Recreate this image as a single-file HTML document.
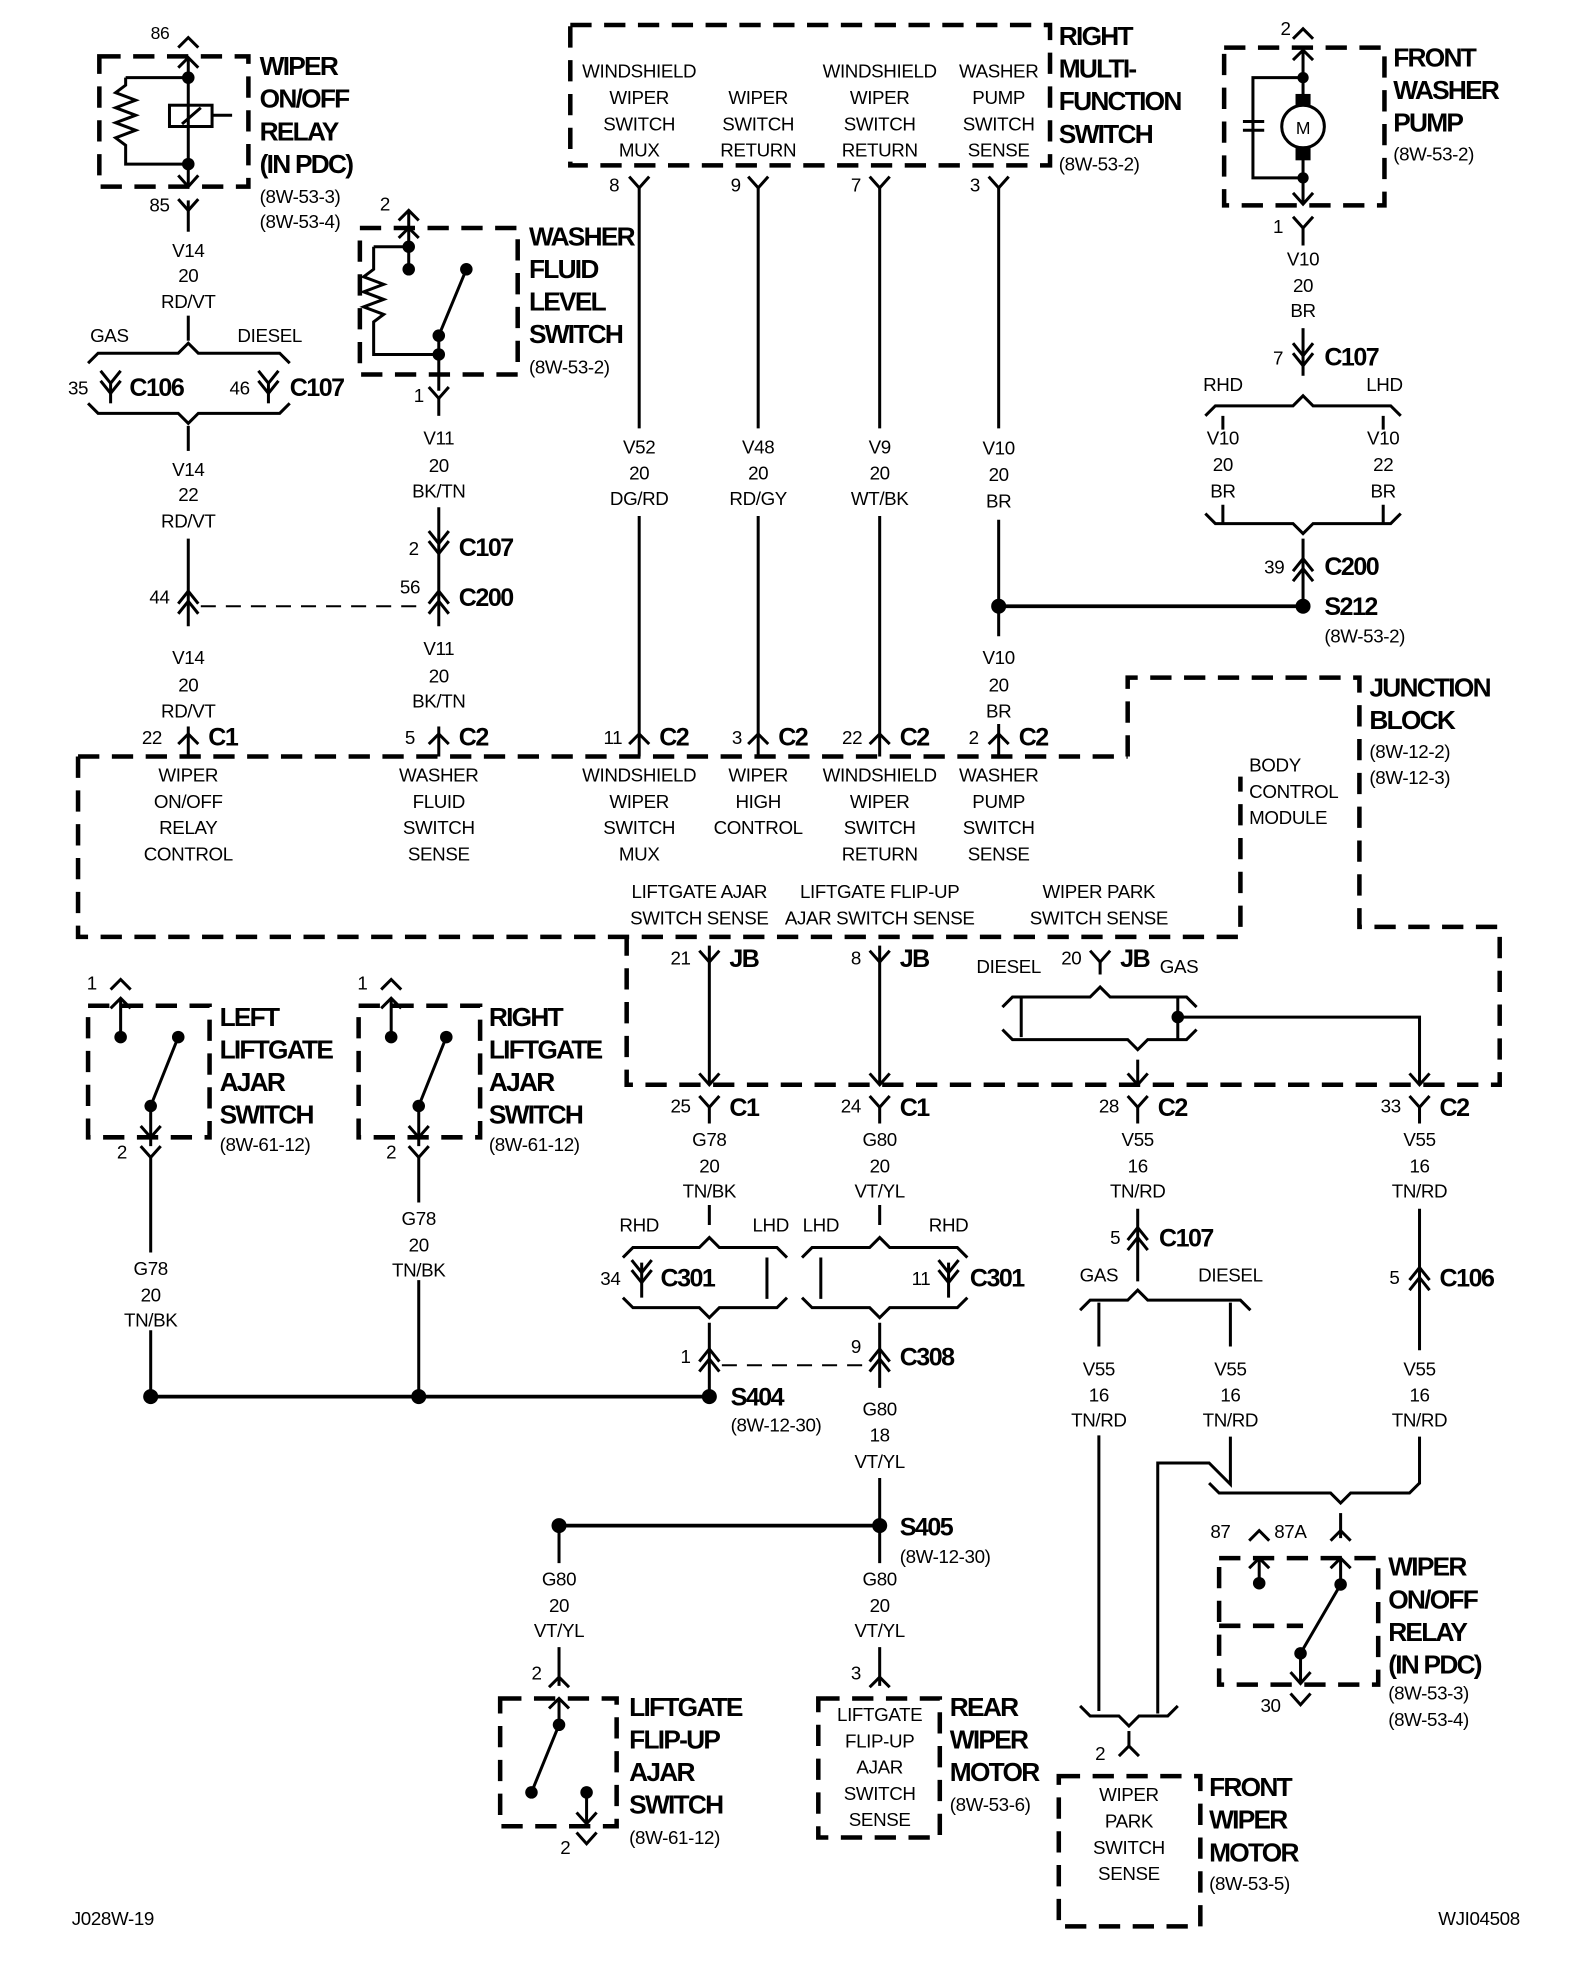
<!DOCTYPE html>
<html><head><meta charset="utf-8"><style>
html,body{margin:0;padding:0;background:#fff;}
svg{display:block;}
text{font-family:"Liberation Sans Narrow","Liberation Sans",sans-serif;fill:#000;}
.s{font-size:15px;text-anchor:middle;letter-spacing:-0.3px;}
.sl{font-size:15px;letter-spacing:-0.3px;}
.b{font-size:21px;font-weight:bold;letter-spacing:-1.4px;}
.bc{font-size:20px;font-weight:bold;letter-spacing:-1.2px;}
.w{stroke:#000;stroke-width:2.4;fill:none;}
.d{stroke:#000;stroke-width:3.6;fill:none;stroke-dasharray:17,10;}
.dl{stroke:#000;stroke-width:1.6;fill:none;stroke-dasharray:12,8;}
</style></head><body>
<svg width="1584" height="1964" viewBox="0 0 1264 1568" xmlns="http://www.w3.org/2000/svg">
<defs>
<path id="y" d="M-8,-9 L0,0 L8,-9" class="w"/>
<path id="up" d="M-8,8 L0,0 L8,8" class="w"/>
<path id="dd" d="M-8,-14 L0,-4 L8,-14 M-8,-6 L0,4 L8,-6" class="w"/>
<path id="uu" d="M-8,4 L0,-6 L8,4 M-8,12 L0,2 L8,12" class="w"/>
</defs>

<!-- ============ TOP LEFT RELAY ============ -->
<rect x="79" y="45" width="119" height="104" class="d"/>
<text x="120" y="31" class="sl" style="font-size:14px">86</text>
<use href="#up" x="150" y="30"/><use href="#up" x="150" y="46"/>
<path class="w" d="M150,46 V148 M100,62 H150 M100,62 V68 l-8,6 l16,6 l-16,6 l16,6 l-16,6 l16,6 l-16,6 l8,6 V131 H150"/>
<circle cx="150" cy="62" r="5"/><circle cx="150" cy="131" r="5"/>
<rect x="135" y="84" width="34" height="17" class="w"/>
<path class="w" d="M145,99 L160,86 M169,92 H185"/>
<path class="w" d="M142,140 L150,149 L158,140"/>
<use href="#y" x="150" y="168"/>
<path class="w" d="M150,160 V185"/>
<text x="119" y="169" class="sl">85</text>
<text x="207" y="60" class="b">WIPER</text>
<text x="207" y="86" class="b">ON/OFF</text>
<text x="207" y="112" class="b">RELAY</text>
<text x="207" y="138" class="b">(IN PDC)</text>
<text x="207" y="162" class="sl">(8W-53-3)</text>
<text x="207" y="182" class="sl">(8W-53-4)</text>
<text x="150" y="205" class="s">V14</text><text x="150" y="225" class="s">20</text><text x="150" y="246" class="s">RD/VT</text>
<path class="w" d="M150,252 V272"/>
<text x="87" y="273" class="s">GAS</text><text x="215" y="273" class="s">DIESEL</text>
<path class="w" d="M70,290 L78,282 H142 L150,274 L158,282 H223 L231,290"/>
<text x="62" y="315" class="s">35</text><use href="#dd" x="88" y="310"/><path class="w" d="M88,306 V322"/>
<text x="103" y="316" class="bc">C106</text>
<text x="191" y="315" class="s">46</text><use href="#dd" x="214" y="310"/><path class="w" d="M214,306 V322"/>
<text x="231" y="316" class="bc">C107</text>
<path class="w" d="M70,322 L78,330 H142 L150,338 L158,330 H223 L231,322"/>
<path class="w" d="M150,340 V360"/>
<text x="150" y="380" class="s">V14</text><text x="150" y="400" class="s">22</text><text x="150" y="421" class="s">RD/VT</text>
<path class="w" d="M150,430 V500"/>
<use href="#uu" x="150" y="478"/>
<text x="127" y="482" class="s">44</text>
<path class="dl" d="M160,484 H340"/>
<text x="150" y="530" class="s">V14</text><text x="150" y="552" class="s">20</text><text x="150" y="573" class="s">RD/VT</text>
<path class="w" d="M150,580 V604"/><use href="#up" x="150" y="586"/>
<text x="121" y="594" class="s">22</text><text x="166" y="595" class="bc">C1</text>

<!-- ============ WASHER FLUID LEVEL SWITCH ============ -->
<rect x="287" y="182" width="126" height="117" class="d"/>
<text x="303" y="168" class="sl">2</text>
<use href="#up" x="326" y="168"/><use href="#up" x="326" y="182"/>
<path class="w" d="M326,168 V215 M298,197 H326 M298,197 V215 l-8,6 l16,6 l-16,6 l16,6 l-16,6 l16,6 l-8,6 V283 H350 M350,268 V312 M350,268 L372,215"/>
<circle cx="326" cy="197" r="5"/><circle cx="326" cy="215" r="5"/><circle cx="350" cy="268" r="5"/><circle cx="350" cy="283" r="5"/><circle cx="372" cy="215" r="5"/>
<use href="#y" x="350" y="318"/><path class="w" d="M350,318 V332"/>
<text x="330" y="321" class="sl">1</text>
<text x="422" y="196" class="b">WASHER</text>
<text x="422" y="222" class="b">FLUID</text>
<text x="422" y="248" class="b">LEVEL</text>
<text x="422" y="274" class="b">SWITCH</text>
<text x="422" y="298" class="sl">(8W-53-2)</text>
<text x="350" y="355" class="s">V11</text><text x="350" y="377" class="s">20</text><text x="350" y="397" class="s">BK/TN</text>
<path class="w" d="M350,405 V500"/>
<use href="#dd" x="350" y="438"/>
<text x="330" y="443" class="s">2</text><text x="366" y="444" class="bc">C107</text>
<use href="#uu" x="350" y="478"/>
<text x="327" y="474" class="s">56</text><text x="366" y="484" class="bc">C200</text>
<text x="350" y="523" class="s">V11</text><text x="350" y="545" class="s">20</text><text x="350" y="565" class="s">BK/TN</text>
<path class="w" d="M350,580 V604"/><use href="#up" x="350" y="586"/>
<text x="327" y="594" class="s">5</text><text x="366" y="595" class="bc">C2</text>

<!-- ============ RIGHT MULTI-FUNCTION SWITCH ============ -->
<rect x="455" y="20" width="383" height="112" class="d"/>
<text x="510" y="62" class="s">WINDSHIELD</text><text x="510" y="83" class="s">WIPER</text><text x="510" y="104" class="s">SWITCH</text><text x="510" y="125" class="s">MUX</text>
<text x="605" y="83" class="s">WIPER</text><text x="605" y="104" class="s">SWITCH</text><text x="605" y="125" class="s">RETURN</text>
<text x="702" y="62" class="s">WINDSHIELD</text><text x="702" y="83" class="s">WIPER</text><text x="702" y="104" class="s">SWITCH</text><text x="702" y="125" class="s">RETURN</text>
<text x="797" y="62" class="s">WASHER</text><text x="797" y="83" class="s">PUMP</text><text x="797" y="104" class="s">SWITCH</text><text x="797" y="125" class="s">SENSE</text>
<text x="845" y="36" class="b">RIGHT</text>
<text x="845" y="62" class="b">MULTI-</text>
<text x="845" y="88" class="b">FUNCTION</text>
<text x="845" y="114" class="b">SWITCH</text>
<text x="845" y="136" class="sl">(8W-53-2)</text>
<use href="#y" x="510" y="150"/><use href="#y" x="605" y="150"/><use href="#y" x="702" y="150"/><use href="#y" x="797" y="150"/>
<text x="490" y="153" class="s">8</text><text x="587" y="153" class="s">9</text><text x="683" y="153" class="s">7</text><text x="778" y="153" class="s">3</text>
<path class="w" d="M510,150 V342 M605,150 V342 M702,150 V342 M797,150 V342"/>
<text x="510" y="362" class="s">V52</text><text x="510" y="383" class="s">20</text><text x="510" y="403" class="s">DG/RD</text>
<text x="605" y="362" class="s">V48</text><text x="605" y="383" class="s">20</text><text x="605" y="403" class="s">RD/GY</text>
<text x="702" y="362" class="s">V9</text><text x="702" y="383" class="s">20</text><text x="702" y="403" class="s">WT/BK</text>
<text x="797" y="363" class="s">V10</text><text x="797" y="384" class="s">20</text><text x="797" y="405" class="s">BR</text>
<path class="w" d="M510,412 V604 M605,412 V604 M702,412 V604 M797,415 V508 M797,578 V604"/>
<circle cx="797" cy="484" r="6"/><circle cx="1040" cy="484" r="6"/>
<path class="w" d="M797,484 H1040" style="stroke-width:3"/>
<text x="1057" y="491" class="bc">S212</text><text x="1057" y="513" class="sl">(8W-53-2)</text>
<text x="797" y="530" class="s">V10</text><text x="797" y="552" class="s">20</text><text x="797" y="573" class="s">BR</text>
<use href="#up" x="510" y="586"/><use href="#up" x="605" y="586"/><use href="#up" x="702" y="586"/><use href="#up" x="797" y="586"/>
<text x="489" y="594" class="s">11</text><text x="526" y="595" class="bc">C2</text>
<text x="588" y="594" class="s">3</text><text x="621" y="595" class="bc">C2</text>
<text x="680" y="594" class="s">22</text><text x="718" y="595" class="bc">C2</text>
<text x="777" y="594" class="s">2</text><text x="813" y="595" class="bc">C2</text>

<!-- ============ FRONT WASHER PUMP ============ -->
<rect x="977" y="38" width="128" height="126" class="d"/>
<text x="1022" y="28" class="sl">2</text>
<use href="#up" x="1040" y="23"/><use href="#up" x="1040" y="40"/>
<path class="w" d="M1040,40 V78 M1040,122 V162 M1040,62 H1000 V142 H1040 M992,97 H1009 M992,104 H1009"/>
<circle cx="1040" cy="62" r="4.5"/><circle cx="1040" cy="142" r="4.5"/>
<rect x="1034" y="75" width="12" height="10"/><rect x="1034" y="118" width="12" height="10"/>
<circle cx="1040" cy="101" r="17" class="w" style="fill:#fff"/>
<text x="1040" y="107" class="s" style="font-size:14px">M</text>
<path class="w" d="M1032,154 L1040,163 L1048,154"/>
<use href="#y" x="1040" y="182"/><path class="w" d="M1040,182 V196"/>
<text x="1020" y="186" class="s">1</text>
<text x="1112" y="53" class="b">FRONT</text><text x="1112" y="79" class="b">WASHER</text><text x="1112" y="105" class="b">PUMP</text>
<text x="1112" y="128" class="sl">(8W-53-2)</text>
<text x="1040" y="212" class="s">V10</text><text x="1040" y="233" class="s">20</text><text x="1040" y="253" class="s">BR</text>
<path class="w" d="M1040,262 V300"/><use href="#dd" x="1040" y="288"/>
<text x="1020" y="291" class="s">7</text><text x="1057" y="292" class="bc">C107</text>
<text x="976" y="312" class="s">RHD</text><text x="1105" y="312" class="s">LHD</text>
<path class="w" d="M962,332 L970,324 H1032 L1040,316 L1048,324 H1110 L1118,332"/>
<path class="w" d="M976,332 V343 M1104,332 V343"/>
<text x="976" y="355" class="s">V10</text><text x="976" y="376" class="s">20</text><text x="976" y="397" class="s">BR</text>
<text x="1104" y="355" class="s">V10</text><text x="1104" y="376" class="s">22</text><text x="1104" y="397" class="s">BR</text>
<path class="w" d="M976,403 V418 M1104,403 V418"/>
<path class="w" d="M962,410 L970,418 H1032 L1040,426 L1048,418 H1110 L1118,410"/>
<path class="w" d="M1040,430 V484"/><use href="#uu" x="1040" y="452"/>
<text x="1017" y="458" class="s">39</text><text x="1057" y="459" class="bc">C200</text>

<!-- ============ BCM & JUNCTION BLOCK ============ -->
<path class="d" d="M62,604 H900 M62,604 V748 H990 V620 M900,604 V541 H1085 V740 H1197 V866 H500 V748"/>
<text x="150" y="624" class="s">WIPER</text><text x="150" y="645" class="s">ON/OFF</text><text x="150" y="666" class="s">RELAY</text><text x="150" y="687" class="s">CONTROL</text>
<text x="350" y="624" class="s">WASHER</text><text x="350" y="645" class="s">FLUID</text><text x="350" y="666" class="s">SWITCH</text><text x="350" y="687" class="s">SENSE</text>
<text x="510" y="624" class="s">WINDSHIELD</text><text x="510" y="645" class="s">WIPER</text><text x="510" y="666" class="s">SWITCH</text><text x="510" y="687" class="s">MUX</text>
<text x="605" y="624" class="s">WIPER</text><text x="605" y="645" class="s">HIGH</text><text x="605" y="666" class="s">CONTROL</text>
<text x="702" y="624" class="s">WINDSHIELD</text><text x="702" y="645" class="s">WIPER</text><text x="702" y="666" class="s">SWITCH</text><text x="702" y="687" class="s">RETURN</text>
<text x="797" y="624" class="s">WASHER</text><text x="797" y="645" class="s">PUMP</text><text x="797" y="666" class="s">SWITCH</text><text x="797" y="687" class="s">SENSE</text>
<text x="997" y="616" class="sl">BODY</text><text x="997" y="637" class="sl">CONTROL</text><text x="997" y="658" class="sl">MODULE</text>
<text x="558" y="717" class="s">LIFTGATE AJAR</text><text x="558" y="738" class="s">SWITCH SENSE</text>
<text x="702" y="717" class="s">LIFTGATE FLIP-UP</text><text x="702" y="738" class="s">AJAR SWITCH SENSE</text>
<text x="877" y="717" class="s">WIPER PARK</text><text x="877" y="738" class="s">SWITCH SENSE</text>
<text x="1093" y="556" class="b">JUNCTION</text><text x="1093" y="582" class="b">BLOCK</text>
<text x="1093" y="605" class="sl">(8W-12-2)</text><text x="1093" y="626" class="sl">(8W-12-3)</text>

<!-- JB outputs -->
<use href="#y" x="566" y="768"/><use href="#y" x="702" y="768"/><use href="#y" x="878" y="768"/>
<text x="543" y="770" class="s">21</text><text x="582" y="772" class="bc">JB</text>
<text x="683" y="770" class="s">8</text><text x="718" y="772" class="bc">JB</text>
<text x="855" y="770" class="s">20</text><text x="894" y="772" class="bc">JB</text>
<text x="805" y="777" class="s">DIESEL</text><text x="941" y="777" class="s">GAS</text>
<path class="w" d="M566,755 V866 M702,755 V866 M878,768 V778"/>
<path class="w" d="M558,857 L566,866 L574,857 M694,857 L702,866 L710,857 M900,857 L908,866 L916,857 M1125,857 L1133,866 L1141,857"/>
<path class="w" d="M800,804 L808,796 H870 L878,788 L886,796 H947 L955,804"/>
<path class="w" d="M815,796 V828 M940,796 V830 M940,812 H1133 V866"/>
<circle cx="940" cy="812" r="5"/>
<path class="w" d="M800,822 L808,830 H900 L908,838 L916,830 H947 L955,822"/>
<path class="w" d="M908,846 V866"/>
<use href="#y" x="566" y="884"/><use href="#y" x="702" y="884"/><use href="#y" x="908" y="884"/><use href="#y" x="1133" y="884"/>
<text x="543" y="888" class="s">25</text><text x="582" y="891" class="bc">C1</text>
<text x="679" y="888" class="s">24</text><text x="718" y="891" class="bc">C1</text>
<text x="885" y="888" class="s">28</text><text x="924" y="891" class="bc">C2</text>
<text x="1110" y="888" class="s">33</text><text x="1149" y="891" class="bc">C2</text>
<path class="w" d="M566,884 V897 M702,884 V897 M908,884 V897 M1133,884 V897"/>

<!-- G78 / G80 middle -->
<text x="566" y="915" class="s">G78</text><text x="566" y="936" class="s">20</text><text x="566" y="956" class="s">TN/BK</text>
<text x="702" y="915" class="s">G80</text><text x="702" y="936" class="s">20</text><text x="702" y="956" class="s">VT/YL</text>
<path class="w" d="M566,962 V978 M702,962 V978"/>
<text x="510" y="983" class="s">RHD</text><text x="615" y="983" class="s">LHD</text>
<path class="w" d="M497,1004 L505,996 H558 L566,988 L574,996 H620 L628,1004"/>
<text x="655" y="983" class="s">LHD</text><text x="757" y="983" class="s">RHD</text>
<path class="w" d="M640,1004 L648,996 H694 L702,988 L710,996 H764 L772,1004"/>
<path class="w" d="M512,1008 V1036 M612,1004 V1037 M655,1004 V1037 M757,1008 V1036"/>
<use href="#dd" x="512" y="1020"/><use href="#dd" x="757" y="1020"/>
<text x="487" y="1026" class="s">34</text><text x="527" y="1027" class="bc">C301</text>
<text x="735" y="1026" class="s">11</text><text x="774" y="1027" class="bc">C301</text>
<path class="w" d="M497,1036 L505,1044 H558 L566,1052 L574,1044 H620 L628,1036"/>
<path class="w" d="M640,1036 L648,1044 H694 L702,1052 L710,1044 H764 L772,1036"/>
<path class="w" d="M566,1056 V1115 M702,1056 V1108"/>
<use href="#uu" x="566" y="1083"/><use href="#uu" x="702" y="1083"/>
<text x="547" y="1088" class="s">1</text>
<text x="683" y="1080" class="s">9</text><text x="718" y="1090" class="bc">C308</text>
<path class="dl" d="M576,1090 H694"/>
<circle cx="120" cy="1115" r="6"/><circle cx="334" cy="1115" r="6"/><circle cx="566" cy="1115" r="6"/>
<path class="w" d="M120,1115 H566" style="stroke-width:3"/>
<text x="583" y="1122" class="bc">S404</text><text x="583" y="1143" class="sl">(8W-12-30)</text>
<text x="702" y="1130" class="s">G80</text><text x="702" y="1151" class="s">18</text><text x="702" y="1172" class="s">VT/YL</text>
<path class="w" d="M702,1180 V1218"/>
<circle cx="446" cy="1218" r="6"/><circle cx="702" cy="1218" r="6"/>
<path class="w" d="M446,1218 H702" style="stroke-width:3"/>
<text x="718" y="1226" class="bc">S405</text><text x="718" y="1248" class="sl">(8W-12-30)</text>
<path class="w" d="M446,1218 V1248 M702,1218 V1248"/>
<text x="446" y="1266" class="s">G80</text><text x="446" y="1287" class="s">20</text><text x="446" y="1307" class="s">VT/YL</text>
<text x="702" y="1266" class="s">G80</text><text x="702" y="1287" class="s">20</text><text x="702" y="1307" class="s">VT/YL</text>
<path class="w" d="M446,1315 V1346 M702,1315 V1346"/>
<use href="#up" x="446" y="1339"/><use href="#up" x="702" y="1339"/>
<text x="424" y="1341" class="sl">2</text><text x="679" y="1341" class="sl">3</text>

<!-- Liftgate flip-up switch -->
<rect x="399" y="1356" width="93" height="102" class="d"/>
<use href="#up" x="446" y="1356"/>
<path class="w" d="M446,1356 V1377 M446,1377 L424,1431 M468,1431 V1456"/>
<circle cx="446" cy="1377" r="5"/><circle cx="424" cy="1431" r="5"/><circle cx="468" cy="1431" r="5"/>
<path class="w" d="M460,1447 L468,1456 L476,1447 M460,1463 L468,1472 L476,1463"/>
<text x="447" y="1480" class="sl">2</text>
<text x="502" y="1370" class="b">LIFTGATE</text><text x="502" y="1396" class="b">FLIP-UP</text><text x="502" y="1422" class="b">AJAR</text><text x="502" y="1448" class="b">SWITCH</text>
<text x="502" y="1472" class="sl">(8W-61-12)</text>

<!-- Rear wiper motor -->
<rect x="653" y="1356" width="97" height="111" class="d"/>
<text x="702" y="1374" class="s">LIFTGATE</text><text x="702" y="1395" class="s">FLIP-UP</text><text x="702" y="1416" class="s">AJAR</text><text x="702" y="1437" class="s">SWITCH</text><text x="702" y="1458" class="s">SENSE</text>
<text x="758" y="1370" class="b">REAR</text><text x="758" y="1396" class="b">WIPER</text><text x="758" y="1422" class="b">MOTOR</text>
<text x="758" y="1446" class="sl">(8W-53-6)</text>

<!-- Left & right liftgate ajar switches -->
<rect x="70" y="803" width="97" height="105" class="d"/>
<text x="69" y="790" class="sl">1</text>
<use href="#up" x="96" y="782"/><use href="#up" x="96" y="797"/>
<path class="w" d="M96,797 V828 M120,883 L142,828 M120,883 V915"/>
<circle cx="96" cy="828" r="5"/><circle cx="120" cy="883" r="5"/><circle cx="142" cy="828" r="5"/>
<path class="w" d="M112,899 L120,908 L128,899"/>
<use href="#y" x="120" y="924"/>
<text x="93" y="925" class="sl">2</text>
<path class="w" d="M120,924 V1000 M120,1062 V1115"/>
<text x="175" y="819" class="b">LEFT</text><text x="175" y="845" class="b">LIFTGATE</text><text x="175" y="871" class="b">AJAR</text><text x="175" y="897" class="b">SWITCH</text>
<text x="175" y="919" class="sl">(8W-61-12)</text>
<text x="120" y="1018" class="s">G78</text><text x="120" y="1039" class="s">20</text><text x="120" y="1059" class="s">TN/BK</text>

<rect x="286" y="803" width="97" height="105" class="d"/>
<text x="285" y="790" class="sl">1</text>
<use href="#up" x="312" y="782"/><use href="#up" x="312" y="797"/>
<path class="w" d="M312,797 V828 M334,883 L356,828 M334,883 V915"/>
<circle cx="312" cy="828" r="5"/><circle cx="334" cy="883" r="5"/><circle cx="356" cy="828" r="5"/>
<path class="w" d="M326,899 L334,908 L342,899"/>
<use href="#y" x="334" y="924"/>
<text x="308" y="925" class="sl">2</text>
<path class="w" d="M334,924 V960 M334,1022 V1115"/>
<text x="390" y="819" class="b">RIGHT</text><text x="390" y="845" class="b">LIFTGATE</text><text x="390" y="871" class="b">AJAR</text><text x="390" y="897" class="b">SWITCH</text>
<text x="390" y="919" class="sl">(8W-61-12)</text>
<text x="334" y="978" class="s">G78</text><text x="334" y="999" class="s">20</text><text x="334" y="1019" class="s">TN/BK</text>

<!-- V55 right side -->
<text x="908" y="915" class="s">V55</text><text x="908" y="936" class="s">16</text><text x="908" y="956" class="s">TN/RD</text>
<text x="1133" y="915" class="s">V55</text><text x="1133" y="936" class="s">16</text><text x="1133" y="956" class="s">TN/RD</text>
<path class="w" d="M908,965 V1023 M1133,965 V1078"/>
<use href="#uu" x="908" y="986"/>
<text x="890" y="993" class="s">5</text><text x="925" y="995" class="bc">C107</text>
<use href="#uu" x="1133" y="1018"/>
<text x="1113" y="1025" class="s">5</text><text x="1149" y="1027" class="bc">C106</text>
<text x="877" y="1023" class="s">GAS</text><text x="982" y="1023" class="s">DIESEL</text>
<path class="w" d="M862,1046 L870,1038 H900 L908,1030 L916,1038 H990 L998,1046"/>
<path class="w" d="M877,1040 V1075 M982,1040 V1075"/>
<text x="877" y="1098" class="s">V55</text><text x="877" y="1119" class="s">16</text><text x="877" y="1139" class="s">TN/RD</text>
<text x="982" y="1098" class="s">V55</text><text x="982" y="1119" class="s">16</text><text x="982" y="1139" class="s">TN/RD</text>
<text x="1133" y="1098" class="s">V55</text><text x="1133" y="1119" class="s">16</text><text x="1133" y="1139" class="s">TN/RD</text>
<path class="w" d="M877,1146 V1366 M924,1368 V1168 H965 L982,1185 V1147 M1133,1147 V1185"/>
<path class="w" d="M965,1184 L973,1192 H1062 L1070,1200 L1078,1192 H1125 L1133,1184"/>
<path class="w" d="M1070,1208 V1228"/>
<use href="#up" x="1005" y="1222"/><use href="#up" x="1070" y="1222"/>
<text x="966" y="1228" class="sl">87</text><text x="1017" y="1228" class="sl">87A</text>

<!-- Wiper relay bottom -->
<rect x="973" y="1244" width="127" height="101" class="d"/>
<use href="#up" x="1005" y="1244"/><use href="#up" x="1070" y="1244"/>
<path class="w" d="M1005,1244 V1264 M1070,1244 V1265 M1038,1320 L1070,1265 M1038,1320 V1344"/>
<circle cx="1005" cy="1264" r="5"/><circle cx="1070" cy="1265" r="5"/><circle cx="1038" cy="1320" r="5"/>
<path class="d" d="M973,1298 H1040"/>
<path class="w" d="M1030,1335 L1038,1344 L1046,1335 M1030,1352 L1038,1361 L1046,1352"/>
<text x="1006" y="1367" class="sl">30</text>
<text x="1108" y="1258" class="b">WIPER</text><text x="1108" y="1284" class="b">ON/OFF</text><text x="1108" y="1310" class="b">RELAY</text><text x="1108" y="1336" class="b">(IN PDC)</text>
<text x="1108" y="1357" class="sl">(8W-53-3)</text><text x="1108" y="1378" class="sl">(8W-53-4)</text>

<!-- Front wiper motor -->
<path class="w" d="M862,1362 L870,1370 H893 L901,1378 L909,1370 H932 L940,1362"/>
<path class="w" d="M901,1382 V1395"/><use href="#up" x="901" y="1394"/>
<text x="874" y="1405" class="sl">2</text>
<rect x="845" y="1418" width="113" height="120" class="d"/>
<text x="901" y="1438" class="s">WIPER</text><text x="901" y="1459" class="s">PARK</text><text x="901" y="1480" class="s">SWITCH</text><text x="901" y="1501" class="s">SENSE</text>
<text x="965" y="1434" class="b">FRONT</text><text x="965" y="1460" class="b">WIPER</text><text x="965" y="1486" class="b">MOTOR</text>
<text x="965" y="1509" class="sl">(8W-53-5)</text>

<text x="57" y="1537" class="sl">J028W-19</text>
<text x="1148" y="1537" class="sl">WJI04508</text>
</svg>
</body></html>
